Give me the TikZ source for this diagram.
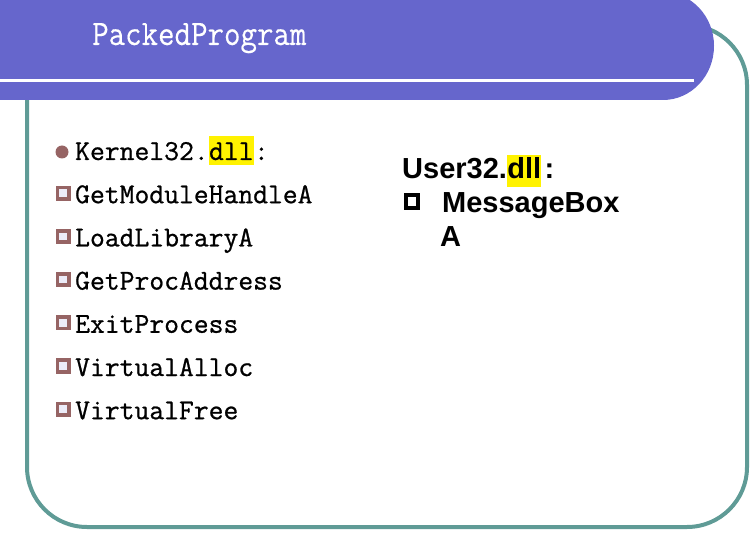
\documentclass[tikz,border=0pt]{standalone}
\usepackage{fontspec}
\setsansfont{Liberation Sans}
\newfontfamily\listfont[FakeBold=0.8]{Latin Modern Mono}
\newfontfamily\titlefont[FakeBold=0.4]{Latin Modern Mono}
\definecolor{barblue}{RGB}{102,102,204}
\definecolor{frameteal}{RGB}{95,155,150}
\definecolor{dotbrown}{RGB}{150,100,100}
\definecolor{sqinner}{RGB}{236,236,248}
\tikzset{
  itemtext/.style={anchor=base west, inner sep=0pt, font=\listfont\fontsize{28.8}{30}\selectfont},
  usertext/.style={anchor=base west, inner sep=0pt, font=\sffamily\bfseries\fontsize{29}{31}\selectfont},
  hl/.style={fill=yellow},
  sqbox/.style={draw=dotbrown, line width=3.8pt, fill=sqinner, minimum width=11.5pt, minimum height=11.5pt, inner sep=0pt},
}
\begin{document}
\begin{tikzpicture}[x=1pt,y=-1pt]
  \useasboundingbox (0,0) rectangle (754,534);
  % frame
  \draw[frameteal, line width=4pt, rounded corners=60pt] (27,25) rectangle (747,527);
  % title bar
  \fill[barblue] (0,-8) rectangle (663,100);
  \fill[barblue] (663,46) ellipse [x radius=51, y radius=54];
  \draw[white, line width=2.5pt] (0,80.5) -- (694,80.5);
  \node[anchor=base west, inner sep=0pt, text=white, font=\titlefont\fontsize{32}{34}\selectfont] (title) at (92,45) {\scalebox{1}[1.12]{PackedProgram}};

  % Kernel32
  \node[circle, fill=dotbrown, minimum size=13pt, inner sep=0pt] (kdot) at (62,152) {};
  \node[itemtext] (kname) at (75,160) {Kernel32.};
  \node[itemtext, hl, text height=24pt, text depth=5pt] (kdll) at (kname.base east) {dll};
  \node[itemtext] (kcolon) at (kdll.base east) {:};
  \foreach \fn [count=\i] in {GetModuleHandleA,LoadLibraryA,GetProcAddress,ExitProcess,VirtualAlloc,VirtualFree} {
    \node[sqbox] (sq\i) at (63.2,160+43.2*\i-10) {};
    \node[itemtext] (fn\i) at (75,160+43.2*\i) {\fn};
  }

  % User32
  \node[usertext] (uname) at (402,179) {User32.};
  \node[usertext, hl, text height=24pt, text depth=8pt] (udll) at (uname.base east) {dll};
  \node[usertext] (ucolon) at (udll.base east) {\hspace{3pt}:};
  \node[draw=black, line width=3.6pt, minimum width=12.5pt, minimum height=13.5pt, inner sep=0pt] (usq) at (412,201.5) {};
  \node[usertext] (ubox) at (442,213) {MessageBox};
  \node[usertext] (ua) at (440,247) {A};
\end{tikzpicture}
\end{document}
